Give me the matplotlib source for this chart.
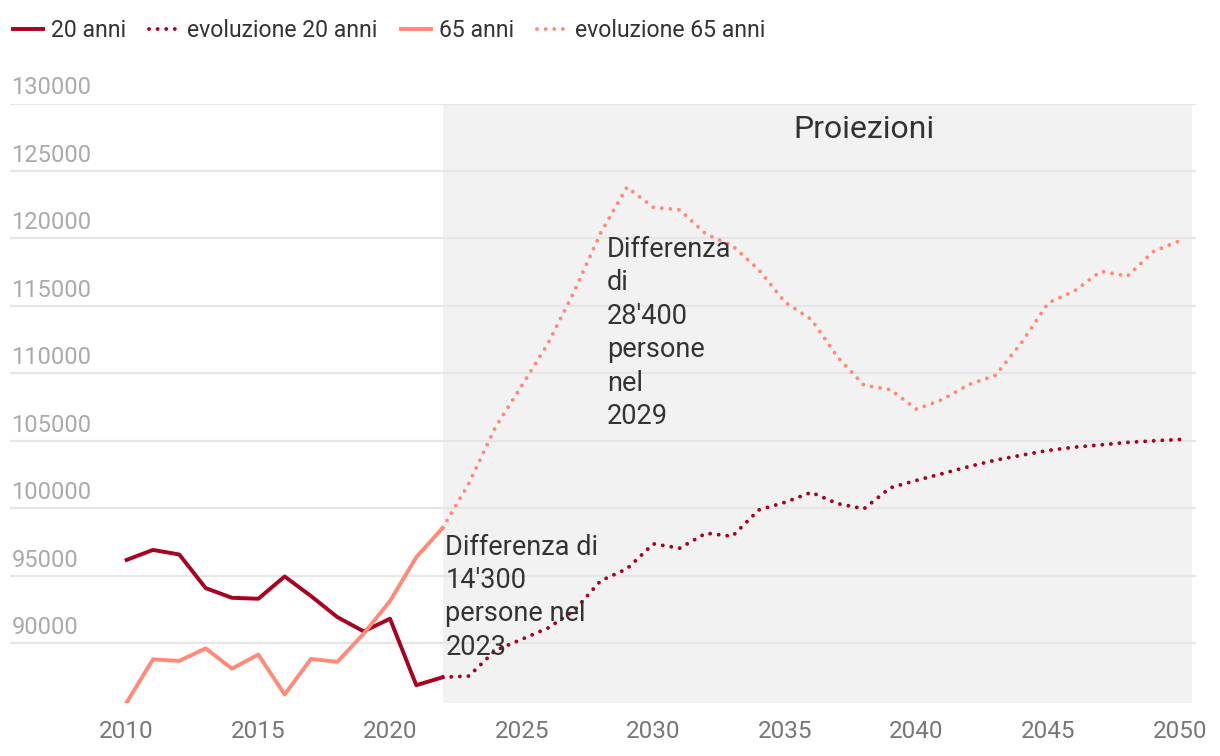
import matplotlib
matplotlib.use('Agg')
import matplotlib.pyplot as plt

plt.rcParams['font.family'] = ['Roboto', 'DejaVu Sans']

# dati storici
years_hist = [2010, 2011, 2012, 2013, 2014, 2015, 2016, 2017, 2018, 2019, 2020, 2021, 2022]
anni20_hist = [96160, 96900, 96560, 94070, 93350, 93280, 94930, 93480, 91920, 90860, 91800, 86870, 87460]
anni65_hist = [85590, 88790, 88670, 89600, 88100, 89140, 86180, 88820, 88600, 90690, 93110, 96360, 98530]

# proiezioni
years_proj = list(range(2022, 2051))
anni20_proj = [87460, 87550, 89450, 90270, 91110, 92410, 94610, 95500, 97350, 97030, 98140, 97910,
               99860, 100430, 101170, 100330, 99950, 101510, 102060, 102570, 103090, 103560,
               103930, 104280, 104520, 104690, 104870, 104990, 105090]
anni65_proj = [98530, 101850, 105980, 109060, 112210, 116080, 120400, 123800, 122300, 122120, 120320,
               119460, 117690, 115270, 113990, 111200, 109110, 108790, 107330, 108070, 109180,
               109850, 112310, 115220, 116110, 117560, 117190, 119040, 119830]

y_ticks = [90000, 95000, 100000, 105000, 110000, 115000, 120000, 125000, 130000]
x_ticks = [2010, 2015, 2020, 2025, 2030, 2035, 2040, 2045, 2050]

dark_red = '#a8001f'
salmon = '#ff8a78'

fig = plt.figure(figsize=(12.2, 7.56), dpi=100)
ax = fig.add_axes([10/1220, 53/756, 1186/1220, 599.5/756])
ax.set_xlim(2005.57, 2050.61)
ax.set_ylim(85550, 130000)

# area proiezioni
ax.axvspan(2022, 2050.45, color='#f2f2f2', lw=0, zorder=0)
ax.text(2038, 128100, 'Proiezioni', ha='center', va='center', fontsize=23, color='#333333')

ax.set_yticks(y_ticks)
ax.grid(axis='y', color='#e6e6e6', lw=1.6, zorder=1)
ax.set_yticklabels([])
ax.tick_params(axis='y', length=0)
for v in y_ticks:
    ax.annotate(str(v), xy=(0, v), xycoords=('axes fraction', 'data'), xytext=(1, 6.5),
                textcoords='offset points', ha='left', va='baseline', fontsize=17, color='#aaaaaa',
                annotation_clip=False)

ax.set_xticks(x_ticks)
ax.tick_params(axis='x', length=0, pad=12, labelsize=17.5, labelcolor='#777777')
for s in ax.spines.values():
    s.set_visible(False)

dots = (0, (0.01, 2.2))
ax.plot(years_hist, anni20_hist, color=dark_red, lw=2.8, label='20 anni', zorder=3,
        solid_joinstyle='round')
ax.plot(years_proj, anni20_proj, color=dark_red, lw=2.8, ls=dots, dash_capstyle='round',
        label='evoluzione 20 anni', zorder=3)
ax.plot(years_hist, anni65_hist, color=salmon, lw=2.8, label='65 anni', zorder=3,
        solid_joinstyle='round')
ax.plot(years_proj, anni65_proj, color=salmon, lw=2.8, ls=dots, dash_capstyle='round',
        label='evoluzione 65 anni', zorder=3)

ax.text(2022.1, 98100, "Differenza di\n14'300\npersone nel\n2023", ha='left', va='top',
        fontsize=19.5, color='#333333', linespacing=1.3, zorder=4)
ax.text(2028.23, 120180, "Differenza\ndi\n28'400\npersone\nnel\n2029", ha='left', va='top',
        fontsize=19.5, color='#333333', linespacing=1.31, zorder=4)

fig.legend(loc='center left', bbox_to_anchor=(0.003, 0.960), ncol=4, frameon=False,
           fontsize=16.6, handlelength=1.3, handletextpad=0.35, columnspacing=1.0,
           labelcolor='#333333', borderaxespad=0)

fig.savefig('out.png', dpi=100)
